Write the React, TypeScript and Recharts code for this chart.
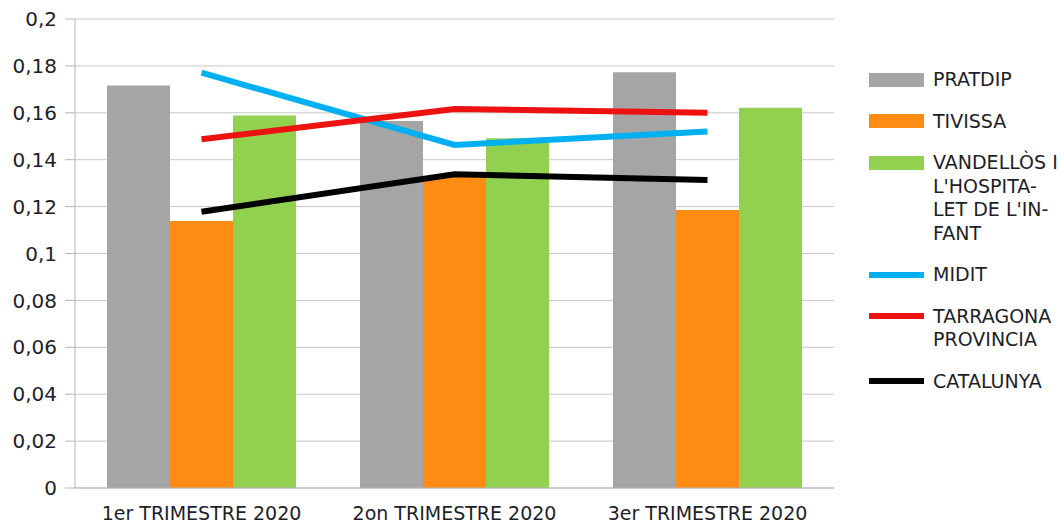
import { Bar, CartesianGrid, ComposedChart, Line, XAxis, YAxis } from "recharts";

const categories = ["1er TRIMESTRE 2020", "2on TRIMESTRE 2020", "3er TRIMESTRE 2020"];
const pratdip = [0.1716, 0.1565, 0.1773];
const tivissa = [0.1139, 0.133, 0.1186];
const vandellos = [0.1589, 0.1491, 0.1622];
const midit = [0.1771, 0.1463, 0.152];
const tarragona = [0.1487, 0.1616, 0.16];
const catalunya = [0.1178, 0.1338, 0.1313];
const yTicks = [0, 0.02, 0.04, 0.06, 0.08, 0.1, 0.12, 0.14, 0.16, 0.18, 0.2];
const edgeTicks = [0, 1, 2, 3];

const series = [
  { key: "pratdip", name: "PRATDIP", lines: ["PRATDIP"], color: "#a5a5a5", kind: "bar" },
  { key: "tivissa", name: "TIVISSA", lines: ["TIVISSA"], color: "#fd8c14", kind: "bar" },
  {
    key: "vandellos",
    name: "VANDELLÒS I L'HOSPITALET DE L'INFANT",
    lines: ["VANDELLÒS I", "L'HOSPITA-", "LET DE L'IN-", "FANT"],
    color: "#92d050",
    kind: "bar",
  },
  { key: "midit", name: "MIDIT", lines: ["MIDIT"], color: "#00b0f0", kind: "line" },
  { key: "tarragona", name: "TARRAGONA PROVINCIA", lines: ["TARRAGONA", "PROVINCIA"], color: "#ee1111", kind: "line" },
  { key: "catalunya", name: "CATALUNYA", lines: ["CATALUNYA"], color: "#000000", kind: "line" },
];

const data = categories.map((name, i) => ({
  name,
  pratdip: pratdip[i],
  tivissa: tivissa[i],
  vandellos: vandellos[i],
  midit: midit[i],
  tarragona: tarragona[i],
  catalunya: catalunya[i],
}));

const axisColor = "#b3b3b3";
const textColor = "#1e1e28";
const fontFamily = "'DejaVu Sans', sans-serif";

const fmt = (v: number) => Number(v.toFixed(2)).toString().replace(".", ",");

function LegendBox() {
  return (
    <div style={{ position: "absolute", left: 869, top: 68, fontFamily, fontSize: 19, color: textColor }}>
      {series.map((s) => (
        <div key={s.key} style={{ display: "flex", alignItems: "flex-start", marginBottom: 18 }}>
          <div style={{ width: 55, height: 23.5, display: "flex", alignItems: "center", marginRight: 9 }}>
            <div style={{ width: 55, height: s.kind === "bar" ? 14 : 6, background: s.color }} />
          </div>
          <div style={{ lineHeight: "23.5px" }}>
            {s.lines.map((l) => (
              <div key={l}>{l}</div>
            ))}
          </div>
        </div>
      ))}
    </div>
  );
}

export default function App() {
  return (
    <div style={{ position: "absolute", left: 0, top: 0, width: 1064, height: 528, background: "#fff" }}>
      <ComposedChart
        width={1064}
        height={528}
        data={data}
        margin={{ top: 19, right: 230, bottom: 0, left: 0 }}
        barCategoryGap="12.65%"
        barGap={0}
      >
        <CartesianGrid vertical={false} stroke="#c8c8c8" />
        <XAxis
          xAxisId="edge"
          type="number"
          domain={[0, 3]}
          ticks={edgeTicks}
          height={0}
          axisLine={false}
          tickSize={9}
          tickLine={{ stroke: axisColor }}
          tick={() => <g />}
        />
        <XAxis
          dataKey="name"
          height={40}
          axisLine={{ stroke: axisColor }}
          tickLine={false}
          tickSize={10}
          tickMargin={9}
          tick={{ fontSize: 19, fill: textColor, fontFamily }}
        />
        <YAxis
          width={75}
          domain={[0, 0.2]}
          ticks={yTicks}
          tickFormatter={fmt}
          axisLine={{ stroke: axisColor }}
          tickLine={{ stroke: axisColor }}
          tickSize={10}
          tickMargin={8}
          tick={{ fontSize: 20, fill: textColor, fontFamily }}
        />
        <YAxis
          yAxisId="frame"
          orientation="right"
          width={0}
          domain={[0, 0.2]}
          tick={false}
          tickLine={false}
          axisLine={{ stroke: axisColor }}
        />
        {series
          .filter((s) => s.kind === "bar")
          .map((s) => (
            <Bar key={s.key} dataKey={s.key} name={s.name} fill={s.color} isAnimationActive={false} />
          ))}
        {series
          .filter((s) => s.kind === "line")
          .map((s) => (
            <Line
              key={s.key}
              type="linear"
              dataKey={s.key}
              name={s.name}
              stroke={s.color}
              strokeWidth={6}
              dot={false}
              activeDot={false}
              isAnimationActive={false}
            />
          ))}
      </ComposedChart>
      <LegendBox />
    </div>
  );
}
